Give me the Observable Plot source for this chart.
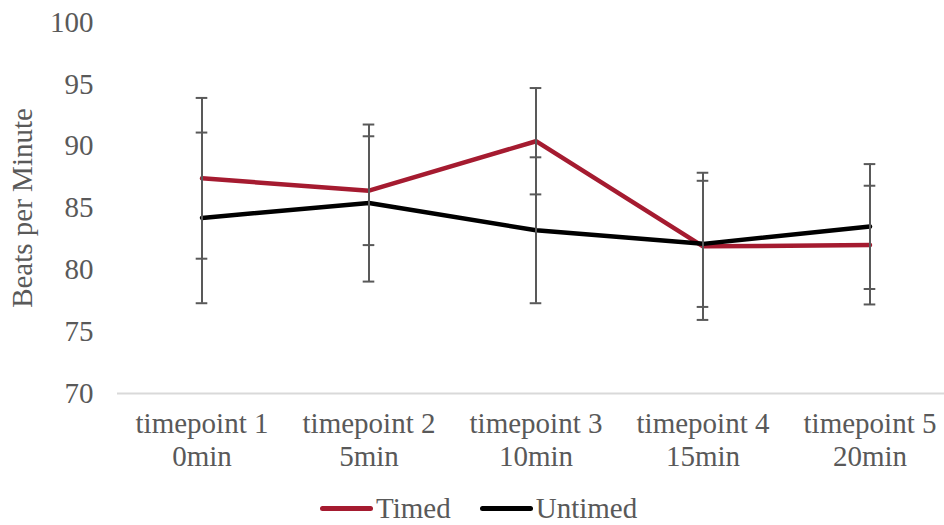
<!DOCTYPE html>
<html><head><meta charset="utf-8">
<script src="https://cdn.jsdelivr.net/npm/d3@7"></script>
<script src="https://cdn.jsdelivr.net/npm/@observablehq/plot@0.6"></script>
<style>
body{margin:0;background:#fff;font-family:"Liberation Serif","Times New Roman",serif;}
#legend{height:33px;display:flex;align-items:center;padding-left:320px;font-size:29px;color:#595959;}
.item{display:flex;align-items:center;margin-right:29px;}
.swatch{width:53px;height:5px;border-radius:3px;margin-right:3px;}
</style>
</head><body><div id="chart"></div><div id="legend"></div><script>
const timepoints = ["timepoint 1","timepoint 2","timepoint 3","timepoint 4","timepoint 5"];
const minutes = ["0min","5min","10min","15min","20min"];
const timedMean = [87.4, 86.4, 90.4, 81.9, 82.0];
const timedErr = [6.5, 4.4, 4.3, 5.95, 4.8];
const untimedMean = [84.2, 85.4, 83.2, 82.1, 83.5];
const untimedErr = [6.9, 6.35, 5.9, 5.1, 5.05];
const yTicks = [70, 75, 80, 85, 90, 95, 100];
const seriesNames = ["Timed", "Untimed"];
const seriesColors = ["#a51b30", "#000000"];

const cats = timepoints.map((t, i) => t + "\n" + minutes[i]);
const rows = [];
[[timedMean, timedErr], [untimedMean, untimedErr]].forEach(([m, e], s) => {
  m.forEach((v, i) => rows.push({cat: cats[i], series: seriesNames[s], mean: v, lo: v - e[i], hi: v + e[i]}));
});

const capInset = (837 / 5 - 12) / 2;
const chart = Plot.plot({
  width: 944, height: 492,
  marginLeft: 117, marginRight: 0, marginTop: 22, marginBottom: 99,
  style: {fontFamily: '"Liberation Serif","Times New Roman",serif', fontSize: "29px", color: "#595959", background: "#fff"},
  x: {domain: cats, range: [117, 954], padding: 0},
  y: {domain: [70, 100]},
  color: {domain: seriesNames, range: seriesColors},
  marks: [
    Plot.ruleY([70], {stroke: "#d9d9d9", strokeWidth: 2}),
    Plot.line(rows, {x: "cat", y: "mean", z: "series", stroke: "series", strokeWidth: 4.5, strokeLinejoin: "round", strokeLinecap: "round"}),
    Plot.ruleX(rows, {x: "cat", y1: "lo", y2: "hi", stroke: "#595959", strokeWidth: 2}),
    Plot.tickY(rows, {x: "cat", y: "lo", stroke: "#595959", strokeWidth: 2, insetLeft: capInset, insetRight: capInset}),
    Plot.tickY(rows, {x: "cat", y: "hi", stroke: "#595959", strokeWidth: 2, insetLeft: capInset, insetRight: capInset}),
    Plot.axisY({ticks: yTicks, tickSize: 0, tickPadding: 24, label: null, fill: "#595959"}),
    Plot.axisX({tickSize: 0, tickPadding: 16, lineHeight: 1.13, label: null, fill: "#595959"}),
    Plot.text(["Beats per Minute"], {frameAnchor: "left", textAnchor: "middle", rotate: -90, dx: -95, fill: "#595959"})
  ]
});
document.getElementById("chart").appendChild(chart);

const legend = document.getElementById("legend");
seriesNames.forEach((n, i) => {
  const it = document.createElement("div"); it.className = "item";
  const sw = document.createElement("div"); sw.className = "swatch"; sw.style.background = seriesColors[i];
  const tx = document.createElement("span"); tx.textContent = n;
  it.appendChild(sw); it.appendChild(tx); legend.appendChild(it);
});
</script></body></html>
